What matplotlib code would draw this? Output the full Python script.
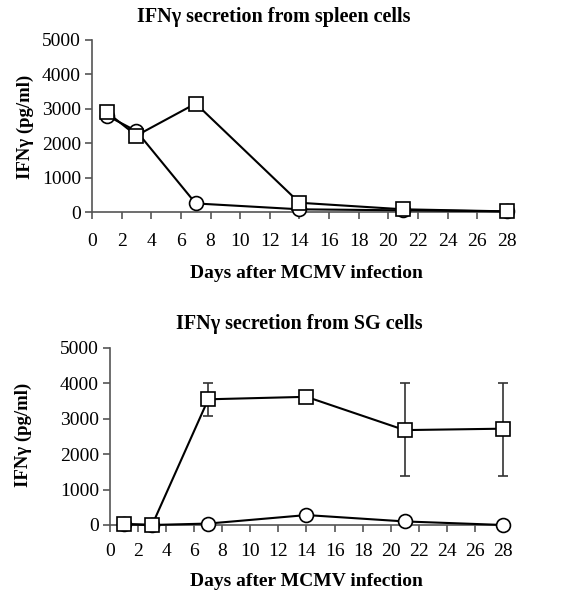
import matplotlib
matplotlib.use("Agg")
import matplotlib.pyplot as plt

plt.rcParams['font.family'] = ['Liberation Serif', 'DejaVu Serif']

days = [1, 3, 7, 14, 21, 28]

# spleen cells
spleen_circle = [2800, 2350, 250, 80, 50, 20]
spleen_circle_err = [80, 80, 60, 30, 30, 20]
spleen_square = [2900, 2220, 3150, 270, 80, 20]
spleen_square_err = [120, 120, 150, 60, 60, 30]

# SG cells
sg_circle = [30, 0, 40, 280, 100, 0]
sg_circle_err = [20, 10, 20, 40, 30, 10]
sg_square = [20, 0, 3550, 3620, 2680, 2720]
sg_square_err_low = [80, 10, 460, 30, 1310, 1350]
sg_square_err_high = [80, 10, 470, 30, 1320, 1300]

x_ticks = list(range(0, 29, 2))
y_ticks = [0, 1000, 2000, 3000, 4000, 5000]


def style_axes(ax, title, title_xy, xlabel_xy, ylabel_xy, xpad):
    ax.set_xlim(0, 28)
    ax.set_ylim(0, 5000)
    ax.set_xticks(x_ticks)
    ax.set_yticks(y_ticks)
    ax.spines['top'].set_visible(False)
    ax.spines['right'].set_visible(False)
    for s in ['left', 'bottom']:
        ax.spines[s].set_color('#555555')
        ax.spines[s].set_linewidth(1.2)
    ax.tick_params(axis='both', direction='out', length=5, width=1.2,
                   color='#555555', labelsize=14)
    ax.tick_params(axis='x', pad=xpad)
    ax.tick_params(axis='y', pad=3)
    ax.text(title_xy[0], title_xy[1], title, transform=ax.transAxes,
            ha='center', va='center', fontsize=14.5, fontweight='bold')
    ax.set_xlabel("Days after MCMV infection", fontsize=14, fontweight='bold')
    ax.set_ylabel("IFNγ (pg/ml)", fontsize=13.5, fontweight='bold')
    ax.xaxis.set_label_coords(*xlabel_xy)
    ax.xaxis.label.set_va('center')
    ax.yaxis.set_label_coords(*ylabel_xy)
    ax.yaxis.label.set_va('center')


def draw_series(ax, y, yerr, marker):
    ax.errorbar(days, y, yerr=yerr, color='black', ecolor='#333333', linewidth=1.5,
                elinewidth=1.2, capsize=3.5, marker=marker, markersize=10,
                markerfacecolor='white', markeredgecolor='black', markeredgewidth=1.2,
                clip_on=False, zorder=3)


fig = plt.figure(figsize=(5.63, 5.94), dpi=100)

ax1 = fig.add_axes([0.1634, 0.643, 0.737, 0.29])
draw_series(ax1, spleen_circle, spleen_circle_err, 'o')
draw_series(ax1, spleen_square, spleen_square_err, 's')
style_axes(ax1, "IFNγ secretion from spleen cells", (0.439, 1.134), (0.518, -0.355), (-0.161, 0.494), 10)

ax2 = fig.add_axes([0.1954, 0.1162, 0.698, 0.298])
draw_series(ax2, sg_circle, sg_circle_err, 'o')
draw_series(ax2, sg_square, [sg_square_err_low, sg_square_err_high], 's')
style_axes(ax2, "IFNγ secretion from SG cells", (0.481, 1.136), (0.50, -0.322), (-0.221, 0.51), 8)

fig.savefig("out.png", dpi=100)
